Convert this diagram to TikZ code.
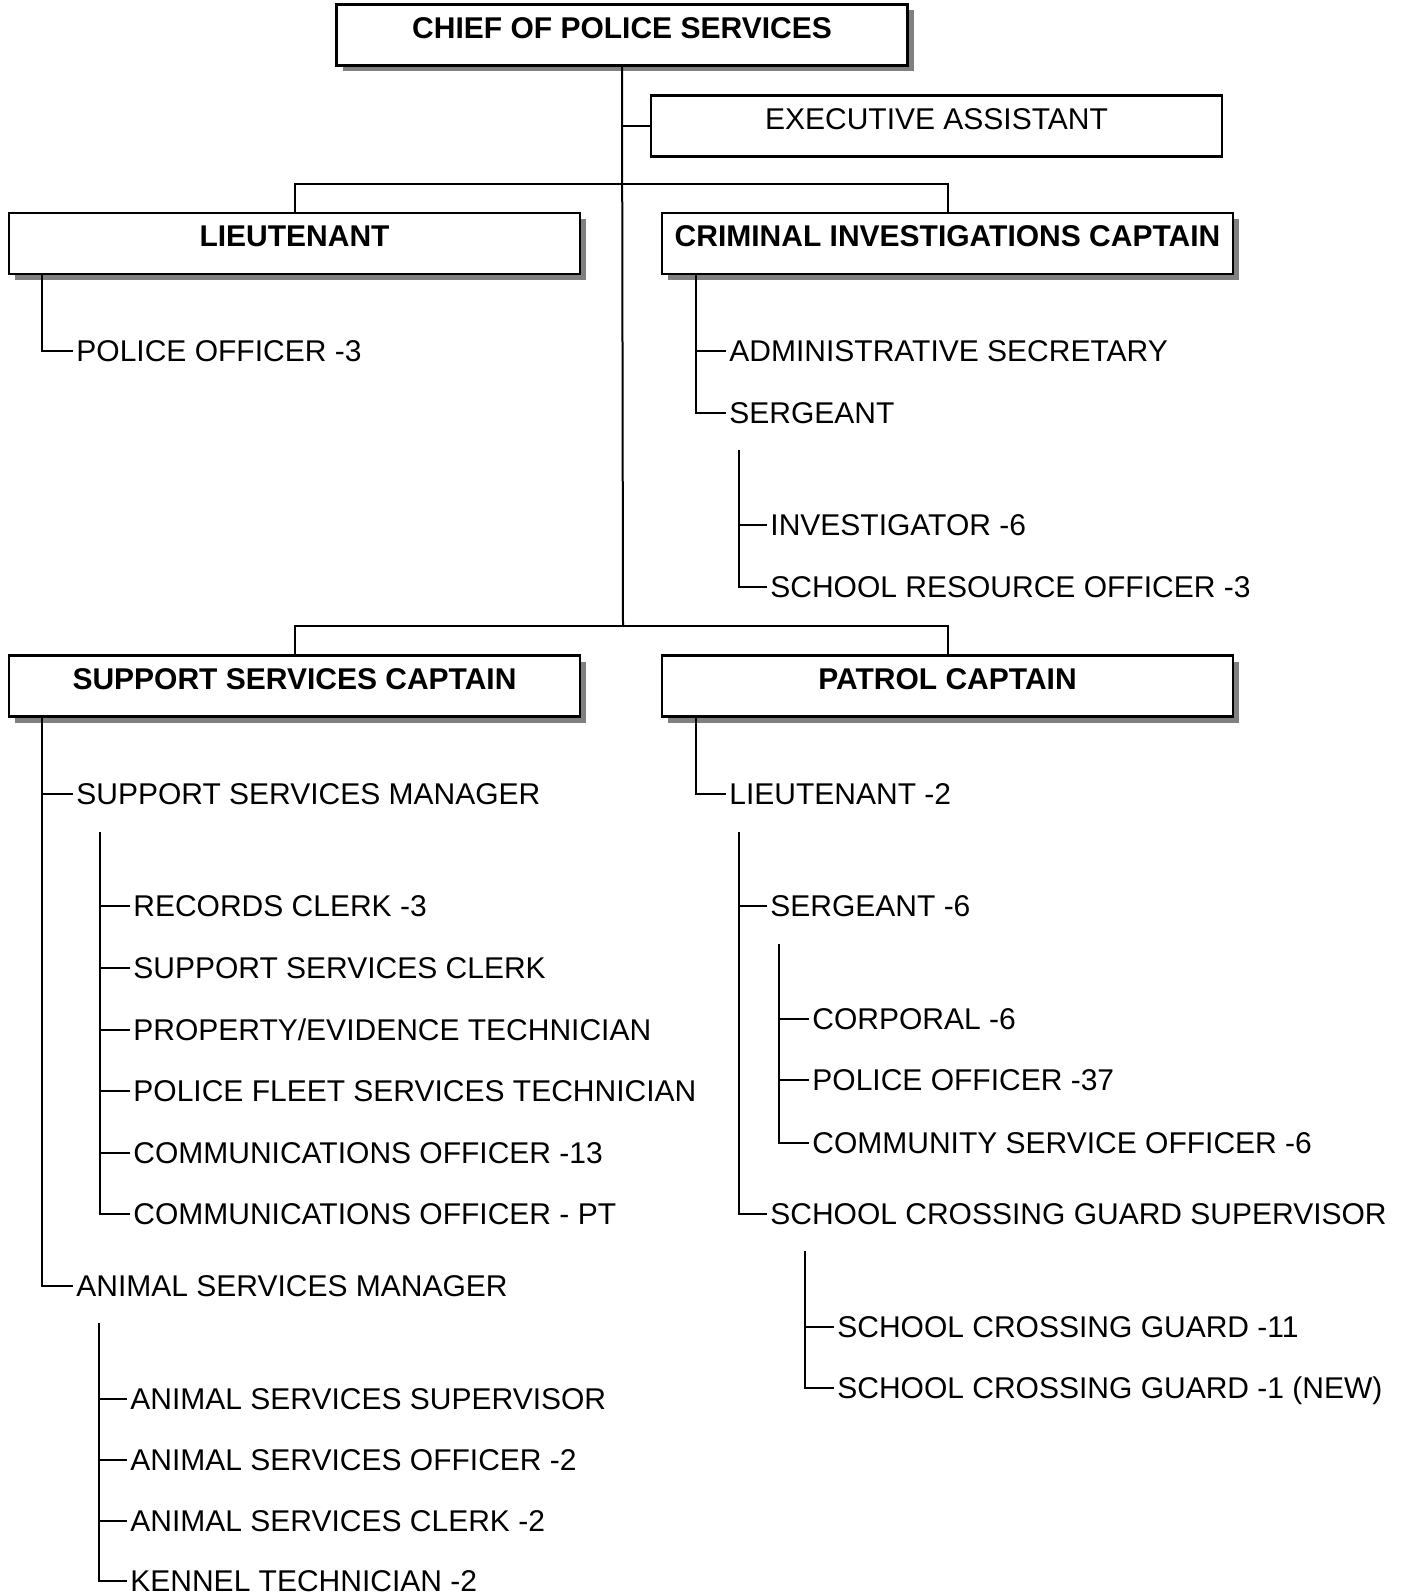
\documentclass[tikz,border=0pt]{standalone}
\usepackage{fontspec}
\setmainfont{Liberation Sans}
\usetikzlibrary{shadows}

\newcommand\orgfont{\fontsize{15pt}{18pt}\selectfont}

\tikzset{
  rank/.style={draw, line width=1.2pt, fill=white, minimum width=285.5pt,
    minimum height=30.5pt, inner sep=0pt, text height=10.8pt,
    text depth=7.5pt, font=\orgfont\bfseries},
  shade/.style={drop shadow={shadow xshift=3pt, shadow yshift=-3pt,
    fill=black!50, opacity=1}},
  post/.style={anchor=west, inner xsep=1.5pt, inner ysep=0pt,
    text height=10.8pt, text depth=0pt},
  link/.style={line width=1pt}
}

\begin{document}
\begin{tikzpicture}[x=0.5pt, y=-0.5pt, font=\orgfont]
  \useasboundingbox (0,0) rectangle (1406,1595);

  % command boxes
  \node[rank, shade] (chief) at (622,35) {CHIEF OF POLICE SERVICES};
  \node[rank, font=\orgfont] (exec) at (936.5,126) {EXECUTIVE ASSISTANT};
  \node[rank, shade] (lt) at (294.5,243.5) {LIEUTENANT};
  \node[rank, shade] (cic) at (947.5,243.5) {CRIMINAL INVESTIGATIONS CAPTAIN};
  \node[rank, shade] (ssc) at (294.5,686) {SUPPORT SERVICES CAPTAIN};
  \node[rank, shade] (patrol) at (947.5,686) {PATROL CAPTAIN};

  \coordinate (upper) at (623,184);
  \coordinate (lower) at (623,626);
  \draw[link] (chief.south) -- (lower);
  \draw[link] (exec.west) -- (exec.west -| chief.south);
  \draw[link] (lt.north) |- (upper) -| (cic.north);
  \draw[link] (ssc.north) |- (lower) -| (patrol.north);

  % lieutenant
  \node[post] (po3) at (73,351) {POLICE OFFICER -3};
  \coordinate (ltbar) at ([xshift=17pt]lt.south west);
  \draw[link] (ltbar) |- (po3.west);

  % criminal investigations
  \node[post] (adsec) at (726,351) {ADMINISTRATIVE SECRETARY};
  \node[post] (sgt) at (726,413) {SERGEANT};
  \node[post] (inv) at (767,525) {INVESTIGATOR -6};
  \node[post] (sro) at (767,587) {SCHOOL RESOURCE OFFICER -3};
  \coordinate (cicbar) at ([xshift=17.5pt]cic.south west);
  \draw[link] (cicbar) |- (sgt.west);
  \draw[link] (adsec.west) -- (adsec.west -| cicbar);
  \coordinate (sgtbar) at (739,450);
  \draw[link] (sgtbar) |- (sro.west);
  \draw[link] (inv.west) -- (inv.west -| sgtbar);

  % support services
  \node[post] (ssm) at (73,794) {SUPPORT SERVICES MANAGER};
  \node[post] (asm) at (73,1286) {ANIMAL SERVICES MANAGER};
  \coordinate (sscbar) at ([xshift=17pt]ssc.south west);
  \draw[link] (sscbar) |- (asm.west);
  \draw[link] (ssm.west) -- (ssm.west -| sscbar);

  \node[post] (rec) at (130,906) {RECORDS CLERK -3};
  \node[post] (ssclerk) at (130,968) {SUPPORT SERVICES CLERK};
  \node[post] (prop) at (130,1030) {PROPERTY/EVIDENCE TECHNICIAN};
  \node[post] (fleet) at (130,1091) {POLICE FLEET SERVICES TECHNICIAN};
  \node[post] (comm) at (130,1153) {COMMUNICATIONS OFFICER -13};
  \node[post] (commpt) at (130,1214) {COMMUNICATIONS OFFICER - PT};
  \coordinate (ssmbar) at (100,832);
  \draw[link] (ssmbar) |- (commpt.west);
  \foreach \n in {rec,ssclerk,prop,fleet,comm}
    \draw[link] (\n.west) -- (\n.west -| ssmbar);

  \node[post] (assup) at (127,1399) {ANIMAL SERVICES SUPERVISOR};
  \node[post] (asoff) at (127,1460) {ANIMAL SERVICES OFFICER -2};
  \node[post] (asclerk) at (127,1521) {ANIMAL SERVICES CLERK -2};
  \node[post] (kennel) at (127,1581) {KENNEL TECHNICIAN -2};
  \coordinate (asmbar) at (99,1323);
  \draw[link] (asmbar) |- (kennel.west);
  \foreach \n in {assup,asoff,asclerk}
    \draw[link] (\n.west) -- (\n.west -| asmbar);

  % patrol
  \node[post] (lt2) at (726,794) {LIEUTENANT -2};
  \coordinate (patbar) at ([xshift=17.5pt]patrol.south west);
  \draw[link] (patbar) |- (lt2.west);

  \node[post] (sgt6) at (767,906) {SERGEANT -6};
  \node[post] (scgs) at (767,1214) {SCHOOL CROSSING GUARD SUPERVISOR};
  \coordinate (lt2bar) at (739,832);
  \draw[link] (lt2bar) |- (scgs.west);
  \draw[link] (sgt6.west) -- (sgt6.west -| lt2bar);

  \node[post] (cpl) at (809,1019) {CORPORAL -6};
  \node[post] (po37) at (809,1080) {POLICE OFFICER -37};
  \node[post] (cso) at (809,1143) {COMMUNITY SERVICE OFFICER -6};
  \coordinate (sgt6bar) at (779,944);
  \draw[link] (sgt6bar) |- (cso.west);
  \foreach \n in {cpl,po37}
    \draw[link] (\n.west) -- (\n.west -| sgt6bar);

  \node[post] (scg11) at (834,1327) {SCHOOL CROSSING GUARD -11};
  \node[post] (scgnew) at (834,1388) {SCHOOL CROSSING GUARD -1 (NEW)};
  \coordinate (scgsbar) at (805,1251);
  \draw[link] (scgsbar) |- (scgnew.west);
  \draw[link] (scg11.west) -- (scg11.west -| scgsbar);

\end{tikzpicture}
\end{document}
